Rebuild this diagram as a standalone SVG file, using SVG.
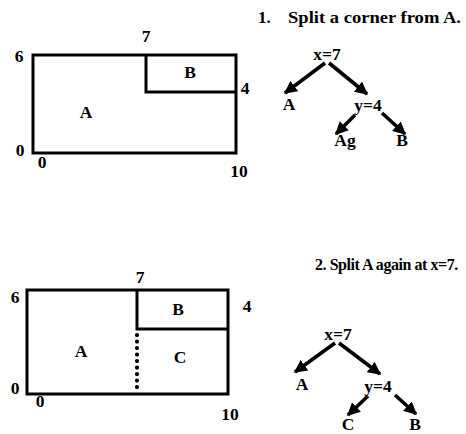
<svg xmlns="http://www.w3.org/2000/svg" width="466" height="434" viewBox="0 0 466 434">
<defs>
<marker id="ah" viewBox="0 0 10 10" refX="9" refY="5" markerWidth="3.6" markerHeight="3.6" orient="auto" markerUnits="strokeWidth">
<path d="M0,0 L10,5 L0,10 z" fill="#000"/>
</marker>
<style>
text{font-family:"Liberation Serif","Times New Roman",serif;font-weight:bold;fill:#000}
.lbl{font-size:17.5px;text-anchor:middle}
.ttl{font-size:17px}
.box{fill:none;stroke:#000;stroke-width:3}
.edge{stroke:#000;stroke-width:3.6;fill:none;marker-end:url(#ah)}
</style>
</defs>
<rect width="466" height="434" fill="#fff"/>

<g id="fig1">
<rect class="box" x="33" y="55" width="203" height="98"/>
<path class="box" d="M146,55 V92 H236"/>
<text class="lbl" x="146" y="42">7</text>
<text class="lbl" x="19" y="62">6</text>
<text class="lbl" x="245" y="94">4</text>
<text class="lbl" x="20" y="156">0</text>
<text class="lbl" x="42" y="168">0</text>
<text class="lbl" x="239" y="177">10</text>
<text class="lbl" x="86" y="118">A</text>
<text class="lbl" x="190" y="78">B</text>
</g>

<g id="title1">
<text class="ttl" x="258" y="23">1.</text>
<text class="ttl" x="288" y="23" textLength="173" lengthAdjust="spacingAndGlyphs">Split a corner from A.</text>
</g>
<g id="t1-root"><text class="lbl" x="327" y="60">x=7</text></g>
<g id="t1-A"><text class="lbl" x="289" y="110">A</text></g>
<g id="t1-y"><text class="lbl" x="368" y="111">y=4</text></g>
<g id="t1-Ag"><text class="lbl" x="345" y="146">Ag</text></g>
<g id="t1-B"><text class="lbl" x="402" y="146">B</text></g>

<g id="fig2">
<rect class="box" x="27" y="290" width="201" height="104"/>
<path class="box" d="M137,290 V329 H228"/>
<line x1="137" y1="335" x2="137" y2="393" stroke="#000" stroke-width="4.2" stroke-linecap="round" stroke-dasharray="0.1,6.4"/>
<text class="lbl" x="140" y="283">7</text>
<text class="lbl" x="15" y="303">6</text>
<text class="lbl" x="247" y="312">4</text>
<text class="lbl" x="15" y="394">0</text>
<text class="lbl" x="40" y="407">0</text>
<text class="lbl" x="230" y="420">10</text>
<text class="lbl" x="81" y="357">A</text>
<text class="lbl" x="178" y="315">B</text>
<text class="lbl" x="180" y="363">C</text>
</g>

<g id="title2"><text class="ttl" x="315" y="270" style="font-size:16px;letter-spacing:-0.45px">2. Split A again at x=7.</text></g>
<g id="t2-root"><text class="lbl" x="338" y="340">x=7</text></g>
<g id="t2-A"><text class="lbl" x="302" y="390">A</text></g>
<g id="t2-y"><text class="lbl" x="378" y="392">y=4</text></g>
<g id="t2-C"><text class="lbl" x="348" y="430">C</text></g>
<g id="t2-B"><text class="lbl" x="415" y="430">B</text></g>

<g id="connectors">
<line class="edge" x1="325" y1="63" x2="285" y2="93"/>
<line class="edge" x1="329" y1="63" x2="367" y2="94"/>
<line class="edge" x1="355" y1="115" x2="336" y2="134"/>
<line class="edge" x1="382" y1="113" x2="405" y2="134"/>
<line class="edge" x1="335" y1="343" x2="295" y2="372"/>
<line class="edge" x1="339" y1="343" x2="380" y2="374"/>
<line class="edge" x1="368" y1="396" x2="348" y2="415"/>
<line class="edge" x1="395" y1="395" x2="416" y2="414"/>
</g>
</svg>
